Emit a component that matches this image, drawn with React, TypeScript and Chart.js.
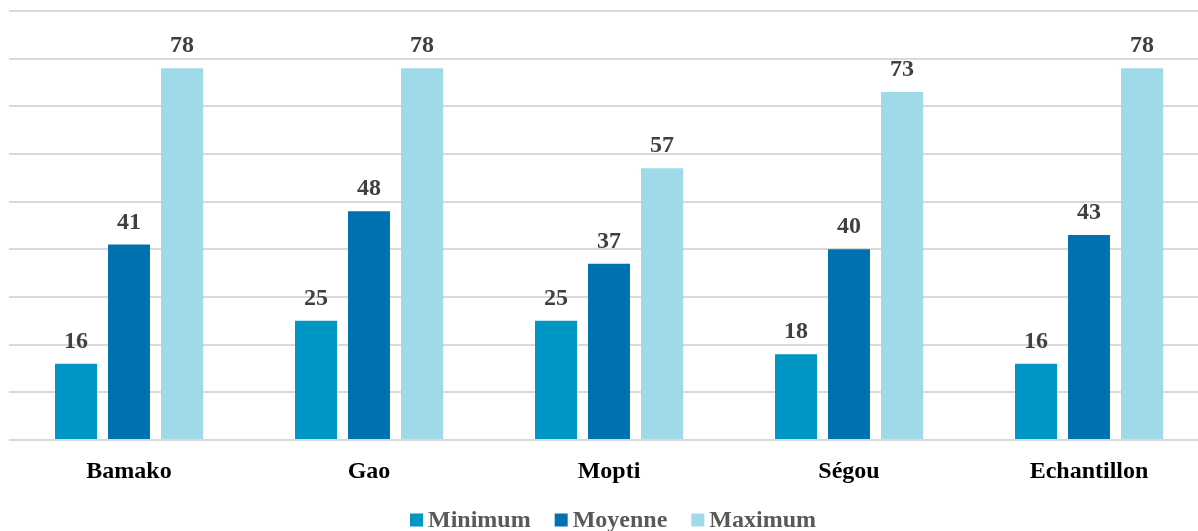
import React, { useEffect, useRef } from "react";
import { Chart, registerables } from "chart.js";

Chart.register(...registerables);

const categories = ["Bamako", "Gao", "Mopti", "Ségou", "Echantillon"];
const minimumValues = [16, 25, 25, 18, 16];
const moyenneValues = [41, 48, 37, 40, 43];
const maximumValues = [78, 78, 57, 73, 78];
const seriesNames = ["Minimum", "Moyenne", "Maximum"];
const seriesColors = ["#0096C4", "#0071B0", "#A0D9E7"];

const FONT_FAMILY = "'Liberation Serif', 'Times New Roman', serif";
const FONT_SIZE = 24;

const valueLabelPlugin = {
  id: "valueLabels",
  afterDatasetsDraw(chart: any) {
    const ctx = chart.ctx;
    ctx.save();
    ctx.font = `bold ${FONT_SIZE}px ${FONT_FAMILY}`;
    ctx.fillStyle = "#404040";
    ctx.textAlign = "center";
    ctx.textBaseline = "alphabetic";
    chart.data.datasets.forEach((ds: any, di: number) => {
      const meta = chart.getDatasetMeta(di);
      meta.data.forEach((bar: any, i: number) => {
        ctx.fillText(String(ds.data[i]), bar.x, bar.y - 16);
      });
    });
    ctx.restore();
  },
};

const customLegendPlugin = {
  id: "customLegend",
  afterDraw(chart: any) {
    const ctx = chart.ctx;
    ctx.save();
    ctx.font = `bold ${FONT_SIZE}px ${FONT_FAMILY}`;
    const box = 13;
    const gap = 5;
    const spacing = 24;
    const items = chart.data.datasets.map((ds: any) => ({
      label: ds.label,
      color: ds.backgroundColor,
      w: ctx.measureText(ds.label).width,
    }));
    const total =
      items.reduce((s: number, it: any) => s + box + gap + it.w, 0) +
      spacing * (items.length - 1);
    const cx = (chart.chartArea.left + chart.chartArea.right) / 2 + 4;
    let x = cx - total / 2;
    const boxCenterY = 520;
    const baseline = 527;
    ctx.textAlign = "left";
    ctx.textBaseline = "alphabetic";
    items.forEach((it: any) => {
      ctx.fillStyle = it.color;
      ctx.fillRect(x, boxCenterY - box / 2, box, box);
      x += box + gap;
      ctx.fillStyle = "#595959";
      ctx.fillText(it.label, x, baseline);
      x += it.w + spacing;
    });
    ctx.restore();
  },
};

export default function App() {
  const canvasRef = useRef<HTMLCanvasElement | null>(null);

  useEffect(() => {
    if (!canvasRef.current) return;
    let chart: Chart | null = null;
    let cancelled = false;
    const valueSets = [minimumValues, moyenneValues, maximumValues];
    const build = () => {
      if (cancelled || !canvasRef.current) return;
      chart = new Chart(canvasRef.current, {
        type: "bar",
        data: {
          labels: categories,
          datasets: seriesNames.map((name, i) => ({
            label: name,
            data: valueSets[i],
            backgroundColor: seriesColors[i],
            borderWidth: 0,
            categoryPercentage: 0.6625,
            barPercentage: 0.792,
          })),
        },
        options: {
          responsive: false,
          animation: false,
          layout: { padding: { top: 11, left: 9, right: 1, bottom: 0 } },
          plugins: {
            legend: { display: false },
            tooltip: { enabled: false },
            title: { display: false },
          },
          scales: {
            x: {
              grid: { display: false, drawTicks: false },
              border: { display: false },
              ticks: {
                color: "#000000",
                padding: 17,
                font: { family: FONT_FAMILY, size: FONT_SIZE, weight: "bold" },
              },
              afterFit: (scale: any) => {
                scale.height = 91;
              },
            },
            y: {
              min: 0,
              max: 90,
              ticks: { display: false, stepSize: 10 },
              grid: { color: "#D9D9D9", lineWidth: 2, drawTicks: false },
              border: { display: false },
            },
          },
        },
        plugins: [valueLabelPlugin, customLegendPlugin],
      });
    };
    const fontsApi: any = (document as any).fonts;
    if (fontsApi && fontsApi.load) {
      fontsApi
        .load(`bold ${FONT_SIZE}px 'Liberation Serif'`)
        .then(build, build);
    } else {
      build();
    }
    return () => {
      cancelled = true;
      if (chart) chart.destroy();
    };
  }, []);

  return (
    <div
      style={{
        position: "fixed",
        left: 0,
        top: 0,
        width: 1198,
        height: 531,
        overflow: "hidden",
        background: "#ffffff",
      }}
    >
      <canvas ref={canvasRef} width={1210} height={531} style={{ display: "block" }} />
    </div>
  );
}
